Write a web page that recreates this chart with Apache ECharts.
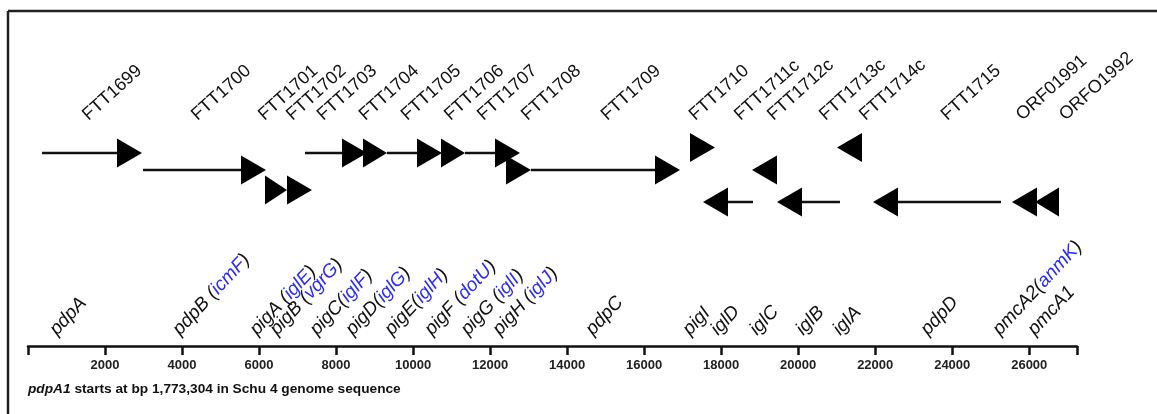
<!DOCTYPE html>
<html>
<head>
<meta charset="utf-8">
<script src="https://cdn.jsdelivr.net/npm/echarts@6/dist/echarts.min.js"></script>
<style>
  html, body { margin: 0; padding: 0; background: #fff; }
  #chart { width: 1157px; height: 414px; }
</style>
</head>
<body>
<div id="chart"></div>
<script>
// gene loci (bp from the start of pdpA1)
const genes = ['FTT1699', 'FTT1700', 'FTT1701', 'FTT1702', 'FTT1703', 'FTT1704', 'FTT1705',
  'FTT1706', 'FTT1707', 'FTT1708', 'FTT1709', 'FTT1710', 'FTT1711c', 'FTT1712c', 'FTT1713c',
  'FTT1714c', 'FTT1715', 'ORF01991', 'ORFO1992']
const geneStart = [364, 2986, 6154, 6700, 7193, 8699, 9322, 10724, 11348, 12412, 13062,
  17190, 17528, 18800, 19449, 21007, 21942, 25552, 26149]
const geneEnd = [2960, 6180, 6726, 7375, 8803, 9322, 10750, 11348, 12776, 13062, 16931,
  17839, 18826, 19449, 21085, 21683, 25266, 26201, 26772]
const strand = [1, 1, 1, 1, 1, 1, 1, 1, 1, 1, 1, 1, -1, -1, -1, -1, -1, -1, -1]
const lane = [1, 2, 3, 3, 1, 1, 1, 1, 1, 2, 2, 0, 4, 2, 4, 0, 4, 4, 4]
const geneName = ['pdpA', 'pdpB ', 'pigA ', 'pigB ', 'pigC', 'pigD', 'pigE', 'pigF ', 'pigG ',
  'pigH ', 'pdpC', 'pigI', 'iglD', 'iglC', 'iglB', 'iglA', 'pdpD', 'pmcA2', 'pmcA1']
const altName = ['', 'icmF', 'iglE', 'vgrG', 'iglF', 'iglG', 'iglH', 'dotU', 'iglI', 'iglJ',
  '', '', '', '', '', '', '', 'anmK', '']
const axisTicks = [0, 2000, 4000, 6000, 8000, 10000, 12000, 14000, 16000, 18000, 20000,
  22000, 24000, 26000, 27240]
const tickLabels = [2000, 4000, 6000, 8000, 10000, 12000, 14000, 16000, 18000, 20000,
  22000, 24000, 26000]

// layout: where the slanted names sit (bp) and how high each lane is above the axis (px)
const topLabelAt = [1640, 4470, 6210, 6940, 7740, 8830, 9920, 11040, 11900, 13040, 15110,
  17400, 18570, 19430, 20780, 21820, 23940, 25890, 27010]
const bottomLabelAt = [830, 4030, 6030, 6550, 7590, 8520, 9530, 10570, 11510, 12340, 14750,
  17270, 18000, 19010, 20210, 21170, 23450, 25320, 26230]
const laneRise = [198.5, 193, 176, 156, 144]
const HEAD_W = 25
const HEAD_H = 29
const FONT = '"Liberation Sans", Arial, Helvetica, sans-serif'

const chart = echarts.init(document.getElementById('chart'))

function renderGene(params, api) {
  const i = params.dataIndex
  const a = api.coord([api.value(0), 0])
  const b = api.coord([api.value(1), 0])
  const base = a[1]
  const y = base - laneRise[api.value(3)]
  const hw = Math.min(HEAD_W, b[0] - a[0])
  let tail, tip, neck
  if (api.value(2) > 0) {
    tail = a[0]; tip = b[0]; neck = tip - hw
  } else {
    tail = b[0]; tip = a[0]; neck = tip + hw
  }
  const children = []
  if (Math.abs(tail - neck) > 3) {
    children.push({
      type: 'line',
      shape: { x1: tail, y1: y, x2: neck, y2: y },
      style: { stroke: '#111', lineWidth: 2.5 }
    })
  }
  children.push({
    type: 'polygon',
    shape: { points: [[neck, y - HEAD_H / 2], [tip, y], [neck, y + HEAD_H / 2]] },
    style: { fill: '#000' }
  })
  children.push({
    type: 'text',
    x: api.coord([topLabelAt[i], 0])[0],
    y: base - 222,
    rotation: 42 * Math.PI / 180,
    style: {
      text: genes[i], fill: '#111', font: '18px ' + FONT,
      align: 'left', verticalAlign: 'bottom'
    }
  })
  const rich = altName[i]
    ? '{n|' + geneName[i] + '(}{b|' + altName[i] + '}{n|)}'
    : '{n|' + geneName[i] + '}'
  children.push({
    type: 'text',
    x: api.coord([bottomLabelAt[i], 0])[0],
    y: base - 7,
    rotation: 47 * Math.PI / 180,
    style: {
      text: rich, align: 'left', verticalAlign: 'bottom',
      rich: {
        n: { fill: '#111', fontSize: 19, fontStyle: 'italic', fontFamily: FONT },
        b: { fill: '#2b2bff', fontSize: 19, fontStyle: 'italic', fontFamily: FONT }
      }
    }
  })
  return { type: 'group', children: children }
}

chart.setOption({
  animation: false,
  backgroundColor: '#fff',
  grid: { left: 28, right: 80, top: 20, bottom: 68 },
  xAxis: {
    type: 'value',
    min: 0,
    max: 27240,
    interval: 2000,
    axisLine: { lineStyle: { color: '#111', width: 2.5 } },
    axisTick: {
      length: 9,
      customValues: axisTicks,
      lineStyle: { color: '#111', width: 2.5 }
    },
    axisLabel: {
      customValues: tickLabels,
      formatter: v => String(v),
      margin: 13,
      color: '#222',
      fontSize: 13,
      fontWeight: 'bold',
      fontFamily: FONT
    },
    splitLine: { show: false }
  },
  yAxis: { type: 'value', min: 0, max: 1, show: false },
  graphic: [
    { type: 'line', shape: { x1: 8, y1: 11, x2: 1157, y2: 11 }, style: { stroke: '#222', lineWidth: 2.5 } },
    { type: 'line', shape: { x1: 8, y1: 11, x2: 8, y2: 414 }, style: { stroke: '#222', lineWidth: 2.5 } },
    {
      type: 'text',
      x: 28,
      y: 389,
      style: {
        text: '{bi|pdpA1}{b| starts at bp 1,773,304 in Schu 4 genome sequence}',
        verticalAlign: 'middle',
        rich: {
          bi: { fill: '#111', fontSize: 13.7, fontWeight: 'bold', fontStyle: 'italic', fontFamily: FONT },
          b: { fill: '#111', fontSize: 13.7, fontWeight: 'bold', fontFamily: FONT }
        }
      }
    }
  ],
  series: [
    {
      type: 'custom',
      renderItem: renderGene,
      clip: false,
      data: genes.map((g, i) => [geneStart[i], geneEnd[i], strand[i], lane[i]])
    }
  ]
})

window.addEventListener('resize', () => {
  chart.resize()
})
</script>
</body>
</html>
